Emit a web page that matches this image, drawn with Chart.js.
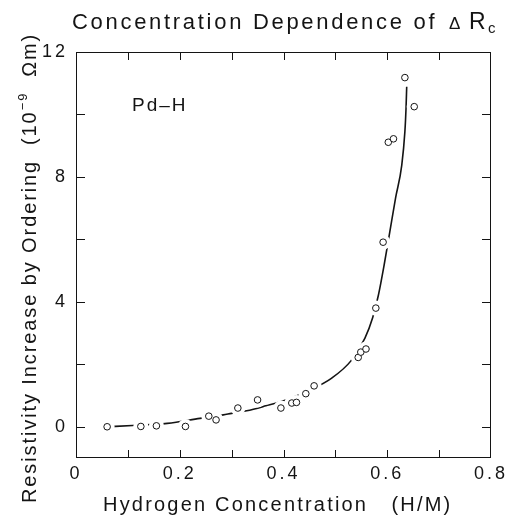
<!DOCTYPE html>
<html>
<head>
<meta charset="utf-8">
<script src="https://cdn.jsdelivr.net/npm/chart.js@4.4.1/dist/chart.umd.min.js"></script>
<style>
  html, body { margin: 0; padding: 0; background: #fff; }
  #wrap { width: 507px; height: 517px; }
</style>
</head>
<body>
<div id="wrap"><canvas id="myChart" width="507" height="517"></canvas></div>
<script>
// measured points : hydrogen concentration (H/M) vs resistivity increase (10^-9 ohm m)
let pointX = [0.060, 0.125, 0.155, 0.211, 0.256, 0.270, 0.312, 0.350, 0.395, 0.416, 0.425,
              0.443, 0.459, 0.544, 0.549, 0.559, 0.578, 0.592, 0.602, 0.612, 0.634, 0.652];
let pointY = [0.00, 0.01, 0.03, 0.01, 0.34, 0.22, 0.60, 0.86, 0.60, 0.76, 0.78,
              1.06, 1.31, 2.22, 2.39, 2.49, 3.80, 5.91, 9.11, 9.22, 11.18, 10.25];

// fitted curve
let curveX = [0.060, 0.109, 0.176, 0.239, 0.284, 0.300, 0.329, 0.366, 0.403, 0.450, 0.493,
              0.530, 0.557, 0.572, 0.583, 0.594, 0.605, 0.616, 0.628, 0.634, 0.6362, 0.6375];
let curveY = [0.00, 0.04, 0.11, 0.27, 0.38, 0.43, 0.51, 0.67, 0.85, 1.17, 1.56,
              2.11, 2.84, 3.50, 4.22, 5.18, 6.25, 7.32, 8.38, 9.45, 10.20, 10.89];

let xTicks = [0.1, 0.2, 0.3, 0.4, 0.5, 0.6, 0.7];
let xLabels = [0, 0.2, 0.4, 0.6, 0.8];
let yTicks = [0, 2, 4, 6, 8, 10];
let yLabels = [0, 4, 8, 12];

let FONT = '"Liberation Sans", Arial, Helvetica, sans-serif';
let INK = '#141414';

let points = pointX.map((x, i) => ({x: x, y: pointY[i]}));
let curve = curveX.map((x, i) => ({x: x, y: curveY[i]}));

function drawPieces(ctx, pieces, x, y) {
  let cx = x;
  pieces.forEach(p => {
    ctx.font = p[1] + 'px ' + FONT;
    ctx.fillText(p[0], cx, y + p[2]);
    cx += ctx.measureText(p[0]).width;
  });
}

const framePlugin = {
  id: 'frame',
  beforeDraw(chart) {
    chart.ctx.letterSpacing = '3px';
  },
  afterDraw(chart) {
    const ctx = chart.ctx;
    const a = chart.chartArea;
    const xs = chart.scales.x, ys = chart.scales.y;
    ctx.save();
    ctx.strokeStyle = INK;
    ctx.lineWidth = 1;
    ctx.strokeRect(a.left + 0.5, a.top + 0.5, a.right - a.left - 1, a.bottom - a.top - 1);
    ctx.beginPath();
    xTicks.forEach(v => {
      const px = Math.round(xs.getPixelForValue(v)) + 0.5;
      ctx.moveTo(px, a.bottom); ctx.lineTo(px, a.bottom - 8);
      ctx.moveTo(px, a.top); ctx.lineTo(px, a.top + 8);
    });
    yTicks.forEach(v => {
      const py = Math.round(ys.getPixelForValue(v)) + 0.5;
      ctx.moveTo(a.left, py); ctx.lineTo(a.left + 9, py);
      ctx.moveTo(a.right, py); ctx.lineTo(a.right - 9, py);
    });
    ctx.stroke();

    ctx.fillStyle = INK;
    ctx.textAlign = 'left';
    ctx.textBaseline = 'alphabetic';

    // title
    ctx.letterSpacing = '2.7px';
    drawPieces(ctx, [['Concentration Dependence of', 22, 0]], 72, 29);
    ctx.letterSpacing = '0px';
    drawPieces(ctx, [['Δ', 17, 0]], 449, 29);
    drawPieces(ctx, [['R', 23, 0]], 469, 29);
    drawPieces(ctx, [['c', 15, 4]], 488, 29);

    // x title
    ctx.letterSpacing = '2.2px';
    drawPieces(ctx, [['Hydrogen Concentration   (H/M)', 20, 0]], 103, 511);

    // y title
    ctx.save();
    ctx.translate(36, 503);
    ctx.rotate(-Math.PI / 2);
    ctx.letterSpacing = '1.9px';
    drawPieces(ctx, [['Resistivity Increase by Ordering  (10', 20, 0], ['−9', 13, -9], ['  Ωm)', 20, 0]], 0, 0);
    ctx.restore();

    // label inside plot
    ctx.letterSpacing = '2px';
    drawPieces(ctx, [['Pd–H', 19, 0]], 132, 111);
    ctx.restore();
  }
};

const ctx = document.getElementById('myChart');

new Chart(ctx, {
  type: 'scatter',
  data: {
    datasets: [
      {
        type: 'line',
        data: curve,
        borderColor: INK,
        borderWidth: 1.6,
        pointRadius: 0,
        fill: false,
        cubicInterpolationMode: 'monotone',
        order: 3
      },
      {
        // white halo so the curve breaks around the circles
        data: points,
        pointRadius: 7.5,
        pointBackgroundColor: '#fff',
        pointBorderColor: 'rgba(0,0,0,0)',
        pointBorderWidth: 0,
        order: 2
      },
      {
        data: points,
        pointRadius: 3.3,
        pointBackgroundColor: '#fff',
        pointBorderColor: INK,
        pointBorderWidth: 1,
        order: 1
      }
    ]
  },
  options: {
    responsive: false,
    animation: false,
    devicePixelRatio: 1,
    layout: { padding: { top: 52, right: 16, left: 0, bottom: 0 } },
    plugins: {
      legend: { display: false },
      tooltip: { enabled: false },
      title: { display: false }
    },
    scales: {
      x: {
        type: 'linear',
        min: 0,
        max: 0.8,
        grid: { display: false, drawTicks: false },
        border: { display: false },
        afterBuildTicks: s => { s.ticks = xLabels.map(v => ({value: v})); },
        afterFit: s => { s.height = 59; s.paddingLeft = 0; s.paddingRight = 0; },
        ticks: {
          padding: 5,
          maxRotation: 0,
          autoSkip: false,
          color: INK,
          font: { family: FONT, size: 18 },
          callback: v => String(v)
        }
      },
      y: {
        type: 'linear',
        min: -1,
        max: 12,
        grid: { display: false, drawTicks: false },
        border: { display: false },
        afterBuildTicks: s => { s.ticks = yLabels.map(v => ({value: v})); },
        afterFit: s => { s.width = 76; s.paddingTop = 0; s.paddingBottom = 0; },
        ticks: {
          padding: 8,
          autoSkip: false,
          color: INK,
          font: { family: FONT, size: 18 },
          callback: v => String(v)
        }
      }
    }
  },
  plugins: [framePlugin]
});
</script>
</body>
</html>
